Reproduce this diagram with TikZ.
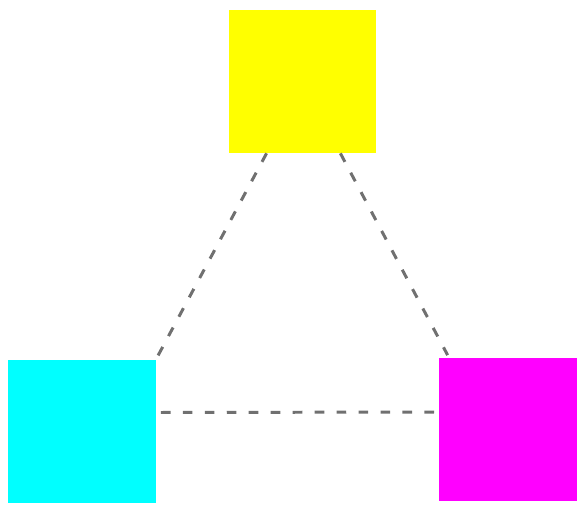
\documentclass[tikz,border=0pt]{standalone}
\usepackage{tikz}
\usepackage{xcolor}
\usetikzlibrary{positioning, calc}
\definecolor{boxyellow}{HTML}{FFFF00}
\definecolor{boxcyan}{HTML}{00FFFF}
\definecolor{boxmagenta}{HTML}{FF00FF}
\definecolor{linkgray}{HTML}{707070}
\tikzstyle{box} = [rectangle, minimum width=2.94cm, minimum height=2.86cm,
                   inner sep=0pt, draw=none]
\tikzstyle{link} = [linkgray, line width=1.7pt, dash pattern=on 5.5pt off 7pt]

\begin{document}
\begin{tikzpicture}
    \useasboundingbox (0,0) rectangle (11.54,10.1);

    % Colour boxes
    \node[box, fill=boxyellow] (ybox) at (6.04,8.47) {};
    \node[box, fill=boxcyan] (cbox) at (1.64,1.47) {};
    \node[box, fill=boxmagenta] (mbox) at (10.25,1.50) {};

    % Anchor points of the links
    \coordinate (yl) at ($(ybox.south west)!0.26!(ybox.south east)$);
    \coordinate (yr) at ($(ybox.south west)!0.76!(ybox.south east)$);
    \coordinate (mt) at ($(mbox.north west)+(0.18,0.06)$);
    \coordinate (ce) at ($(cbox.east)+(0.1,0.38)$);
    \coordinate (me) at ($(mbox.west)+(0,0.36)$);

    % Dashed links
    \draw[link] (yl) -- (cbox.north east);
    \draw[link] (yr) -- (mt);
    \draw[link] (ce) -- (me);
\end{tikzpicture}
\end{document}
